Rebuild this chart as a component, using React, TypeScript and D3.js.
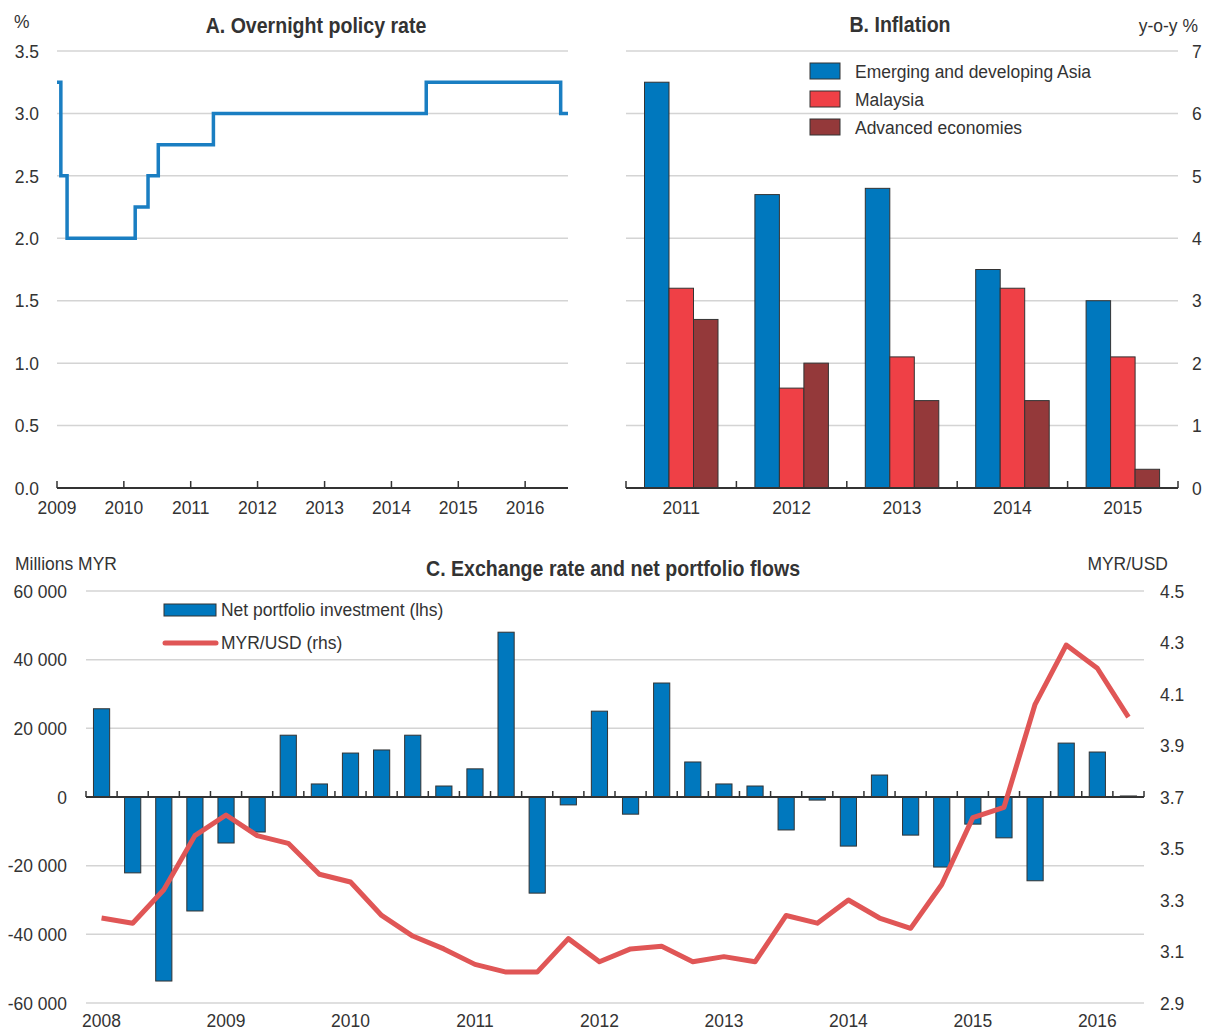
import React, { useEffect, useRef } from 'react';
import * as d3 from 'd3';

// Panel A: overnight policy rate (change dates)
const policyDates = ['2009-01-01', '2009-01-22', '2009-02-25', '2010-03-04', '2010-05-13', '2010-07-08', '2011-05-05', '2014-07-10', '2016-07-13', '2016-08-22'];
const policyRates = [3.25, 2.5, 2.0, 2.25, 2.5, 2.75, 3.0, 3.25, 3.0, 3.0];
const policyTicks = ['2009', '2010', '2011', '2012', '2013', '2014', '2015', '2016'];

// Panel B: inflation
const inflYears = ['2011', '2012', '2013', '2014', '2015'];
const inflSeries = ['Emerging and developing Asia', 'Malaysia', 'Advanced economies'];
const emergingAsia = [6.5, 4.7, 4.8, 3.5, 3.0];
const malaysia = [3.2, 1.6, 2.1, 3.2, 2.1];
const advanced = [2.7, 2.0, 1.4, 1.4, 0.3];

// Panel C: exchange rate and net portfolio flows (quarterly 2008Q1-2016Q2)
const quarterYears = ['2008', '2009', '2010', '2011', '2012', '2013', '2014', '2015', '2016'];
const netPortfolio = [
  25700, -22100, -53600, -33200,
  -13400, -10200, 18000, 3800,
  12800, 13700, 18000, 3200,
  8200, 48000, -28000, -2300,
  25000, -5000, 33200, 10200,
  3800, 3200, -9600, -900,
  -14300, 6400, -11100, -20400,
  -7900, -11900, -24400, 15700,
  13100, 300,
];
const myrUsd = [
  3.23, 3.21, 3.34, 3.55,
  3.63, 3.55, 3.52, 3.40,
  3.37, 3.24, 3.16, 3.11,
  3.05, 3.02, 3.02, 3.15,
  3.06, 3.11, 3.12, 3.06,
  3.08, 3.06, 3.24, 3.21,
  3.30, 3.23, 3.19, 3.36,
  3.62, 3.66, 4.06, 4.29,
  4.20, 4.01,
];

const FONT = '"Liberation Sans Narrow", "Arial Narrow", "Liberation Sans", sans-serif';
const TXT = '#333';
const GRID = '#d4d4d4';
const BLUE = '#0078be';
const RED = '#ef4046';
const DARKRED = '#94393a';
const LINE_RED = '#e05656';

const App = () => {
  const ref = useRef<SVGSVGElement>(null);

  useEffect(() => {
    const svg = d3.select(ref.current);
    svg.selectAll('*').remove();
    svg.attr('font-family', FONT).attr('fill', TXT);

    // no narrow font installed, so squeeze the regular one horizontally
    const text = (x: number, y: number, s: string, size = 19, anchor = 'start', weight = 'normal') =>
      svg.append('text')
        .attr('transform', `translate(${x},${y}) scale(${weight === 'bold' ? 0.89 : 0.92},1)`)
        .attr('font-size', size)
        .attr('font-weight', weight)
        .attr('text-anchor', anchor)
        .attr('dominant-baseline', 'central')
        .attr('fill', TXT)
        .text(s);

    // ---------- Panel A ----------
    const parse = d3.timeParse('%Y-%m-%d');
    const pd = policyDates.map(d => parse(d)!);
    const xA = d3.scaleTime().domain([pd[0], pd[pd.length - 1]]).range([57, 568]);
    const yA = d3.scaleLinear().domain([0, 3.5]).range([488, 51]);

    const gA = svg.append('g');
    gA.selectAll('line.grid')
      .data(d3.range(0.5, 3.51, 0.5))
      .join('line')
      .attr('x1', 57).attr('x2', 568)
      .attr('y1', d => yA(d)).attr('y2', d => yA(d))
      .attr('stroke', GRID).attr('stroke-width', 1.5);

    d3.range(0, 3.51, 0.5).forEach(v => text(39, yA(v), v.toFixed(1), 19, 'end'));

    const lineA = d3.line<number>()
      .x((_, i) => xA(pd[i]))
      .y(d => yA(d))
      .curve(d3.curveStepAfter);
    gA.append('path')
      .attr('d', lineA(policyRates))
      .attr('fill', 'none')
      .attr('stroke', '#1a7ec2')
      .attr('stroke-width', 3.5);

    gA.append('line')
      .attr('x1', 57).attr('x2', 568).attr('y1', 488).attr('y2', 488)
      .attr('stroke', TXT).attr('stroke-width', 2);
    policyTicks.forEach(t => {
      const x = xA(parse(`${t}-01-01`)!);
      gA.append('line').attr('x1', x).attr('x2', x).attr('y1', 488).attr('y2', 481)
        .attr('stroke', TXT).attr('stroke-width', 1.5);
      text(x, 507, t, 19, 'middle');
    });
    text(14, 21, '%', 19);
    text(316, 25, 'A. Overnight policy rate', 22, 'middle', 'bold');

    // ---------- Panel B ----------
    const xB = d3.scaleBand().domain(inflYears).range([626, 1178]);
    const xInner = d3.scaleBand().domain(inflSeries).range([18.5, 92]);
    const yB = d3.scaleLinear().domain([0, 7]).range([488, 51]);
    const bSeries = [emergingAsia, malaysia, advanced];
    const bColors = [BLUE, RED, DARKRED];

    const gB = svg.append('g');
    gB.selectAll('line.grid')
      .data(d3.range(1, 8))
      .join('line')
      .attr('x1', 626).attr('x2', 1178)
      .attr('y1', d => yB(d)).attr('y2', d => yB(d))
      .attr('stroke', GRID).attr('stroke-width', 1.5);
    d3.range(0, 8).forEach(v => text(1192, yB(v), String(v), 19));

    bSeries.forEach((vals, si) => {
      gB.append('g')
        .selectAll('rect')
        .data(vals)
        .join('rect')
        .attr('x', (_, i) => xB(inflYears[i])! + xInner(inflSeries[si])!)
        .attr('y', d => yB(d))
        .attr('width', xInner.bandwidth())
        .attr('height', d => yB(0) - yB(d))
        .attr('fill', bColors[si])
        .attr('stroke', '#333')
        .attr('stroke-width', 1);
    });

    gB.append('line')
      .attr('x1', 626).attr('x2', 1178).attr('y1', 488).attr('y2', 488)
      .attr('stroke', TXT).attr('stroke-width', 2);
    [...inflYears.map(y => xB(y)!), 1178].forEach(x => {
      gB.append('line').attr('x1', x).attr('x2', x).attr('y1', 488).attr('y2', 481)
        .attr('stroke', TXT).attr('stroke-width', 1.5);
    });
    inflYears.forEach(y => text(xB(y)! + xB.bandwidth() / 2, 507, y, 19, 'middle'));

    inflSeries.forEach((s, i) => {
      const cy = 71 + i * 28;
      gB.append('rect').attr('x', 810).attr('y', cy - 8).attr('width', 30).attr('height', 16)
        .attr('fill', bColors[i]).attr('stroke', '#333').attr('stroke-width', 1);
      text(855, cy, s, 19);
    });
    text(1198, 25, 'y-o-y %', 19, 'end');
    text(900, 24, 'B. Inflation', 22, 'middle', 'bold');

    // ---------- Panel C ----------
    const quarters = d3.range(netPortfolio.length).map(i => `${2008 + Math.floor(i / 4)}Q${(i % 4) + 1}`);
    const xC = d3.scaleBand().domain(quarters).range([86, 1144]).paddingInner(0.48).paddingOuter(0.24);
    const xStep = d3.scaleBand().domain(quarters).range([86, 1144]);
    const yC = d3.scaleLinear().domain([-60000, 60000]).range([1003, 591]);
    const yR = d3.scaleLinear().domain([2.9, 4.5]).range([1003, 591]);
    const fmt = (v: number) => (v < 0 ? '-' : '') + d3.format(',')(Math.abs(v)).replace(/,/g, ' ');

    const gC = svg.append('g');
    gC.selectAll('line.grid')
      .data([-60000, -40000, -20000, 20000, 40000, 60000])
      .join('line')
      .attr('x1', 86).attr('x2', 1144)
      .attr('y1', d => yC(d)).attr('y2', d => yC(d))
      .attr('stroke', GRID).attr('stroke-width', 1.5);
    d3.range(-60000, 60001, 20000).forEach(v => text(67, yC(v), fmt(v), 19, 'end'));
    d3.range(2.9, 4.51, 0.2).forEach(v => text(1160, yR(v), v.toFixed(1), 19));

    gC.append('g')
      .selectAll('rect')
      .data(netPortfolio)
      .join('rect')
      .attr('x', (_, i) => xC(quarters[i])!)
      .attr('y', d => yC(Math.max(0, d)))
      .attr('width', xC.bandwidth())
      .attr('height', d => Math.abs(yC(d) - yC(0)))
      .attr('fill', BLUE)
      .attr('stroke', '#333')
      .attr('stroke-width', 1);

    gC.append('line')
      .attr('x1', 86).attr('x2', 1144).attr('y1', yC(0)).attr('y2', yC(0))
      .attr('stroke', TXT).attr('stroke-width', 2);
    [...quarters.map(q => xStep(q)!), 1144].forEach(x => {
      gC.append('line').attr('x1', x).attr('x2', x).attr('y1', yC(0)).attr('y2', yC(0) - 6)
        .attr('stroke', TXT).attr('stroke-width', 1.5);
    });
    quarterYears.forEach(y => {
      const q = `${y}Q1`;
      text(xC(q)! + xC.bandwidth() / 2, 1020, y, 19, 'middle');
    });

    const lineC = d3.line<number>()
      .x((_, i) => xC(quarters[i])! + xC.bandwidth() / 2)
      .y(d => yR(d));
    gC.append('path')
      .attr('d', lineC(myrUsd))
      .attr('fill', 'none')
      .attr('stroke', LINE_RED)
      .attr('stroke-width', 5)
      .attr('stroke-linejoin', 'round');

    gC.append('rect').attr('x', 164).attr('y', 604).attr('width', 52).attr('height', 12)
      .attr('fill', BLUE).attr('stroke', '#333').attr('stroke-width', 1);
    text(221, 609, 'Net portfolio investment (lhs)', 19);
    gC.append('line').attr('x1', 165).attr('x2', 216).attr('y1', 643).attr('y2', 643)
      .attr('stroke', LINE_RED).attr('stroke-width', 5).attr('stroke-linecap', 'round');
    text(221, 642, 'MYR/USD (rhs)', 19);

    text(15, 563, 'Millions MYR', 19);
    text(1168, 563, 'MYR/USD', 19, 'end');
    text(613, 568, 'C. Exchange rate and net portfolio flows', 22, 'middle', 'bold');
  }, []);

  return (
    <svg
      ref={ref}
      width={1208}
      height={1030}
      style={{ position: 'absolute', left: 0, top: 0, background: '#fff' }}
    />
  );
};

export default App;
